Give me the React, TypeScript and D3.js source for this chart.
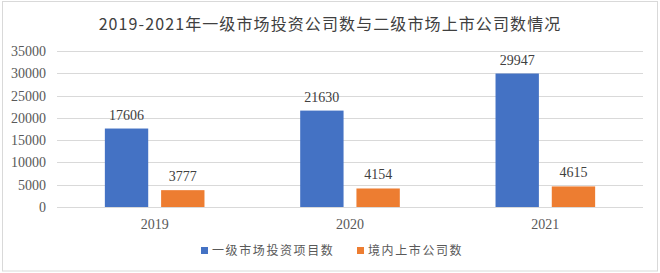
import React from "react";
import * as d3 from "d3";

const categories = ["2019", "2020", "2021"];
const seriesNames = ["一级市场投资项目数", "境内上市公司数"];
const primaryValues = [17606, 21630, 29947];
const listedValues = [3777, 4154, 4615];
const yTicks = [0, 5000, 10000, 15000, 20000, 25000, 30000, 35000];
const colors = ["#4472C4", "#ED7D31"];
const title = "2019-2021年一级市场投资公司数与二级市场上市公司数情况";

export default function App() {
  const W = 660, H = 273;
  const left = 57, right = 643, top = 51, bottom = 207;
  const x = d3.scaleBand<string>().domain(categories).range([left, right]);
  const y = d3.scaleLinear().domain([0, 35000]).range([bottom, top]);
  const bw = x.bandwidth();
  const barW = bw * 0.222;
  const gap = bw * 0.066;
  const series = [primaryValues, listedValues];
  const serif = "'Liberation Serif', 'Times New Roman', serif";
  const cjk = "'Noto Sans CJK SC', sans-serif";

  return (
    <div style={{ position: "absolute", left: 0, top: 0 }}>
      <svg width={W} height={H} style={{ display: "block", background: "#fff" }}>
        <rect x={2.5} y={1.5} width={655} height={269.5} fill="#fff" stroke="#d9d9d9" strokeWidth={1} />
        <text x={330} y={30} textAnchor="middle" fontFamily={cjk} fontSize={16} fill="#404040" letterSpacing={1.1}>
          {title}
        </text>
        {yTicks.map((t) => (
          <g key={t}>
            <line x1={left} x2={right} y1={Math.round(y(t)) + 0.5} y2={Math.round(y(t)) + 0.5} stroke="#d9d9d9" strokeWidth={1} />
            <text x={46} y={y(t) + 5} textAnchor="end" fontFamily={serif} fontSize={14} fill="#595959">
              {d3.format("d")(t)}
            </text>
          </g>
        ))}
        {categories.map((c, i) => {
          const cx = (x(c) as number) + bw / 2;
          return (
            <g key={c}>
              {series.map((vals, s) => {
                const bx = s === 0 ? cx - gap / 2 - barW : cx + gap / 2;
                const v = vals[i];
                return (
                  <g key={s}>
                    <rect x={bx} y={y(v)} width={barW} height={bottom - y(v)} fill={colors[s]} />
                    <text x={bx + barW / 2} y={y(v) - 9} textAnchor="middle" fontFamily={serif} fontSize={14} fill="#404040">
                      {v}
                    </text>
                  </g>
                );
              })}
              <text x={cx} y={229} textAnchor="middle" fontFamily={serif} fontSize={14} fill="#595959">
                {c}
              </text>
            </g>
          );
        })}
        {(() => {
          const items = [
            { x: 201, tx: 212 },
            { x: 357, tx: 368 },
          ];
          return items.map((it, s) => (
            <g key={s}>
              <rect x={it.x} y={247} width={7} height={7} fill={colors[s]} />
              <text x={it.tx} y={255} fontFamily={cjk} fontSize={12} fill="#595959" letterSpacing={1.6}>
                {seriesNames[s]}
              </text>
            </g>
          ));
        })()}
      </svg>
    </div>
  );
}
